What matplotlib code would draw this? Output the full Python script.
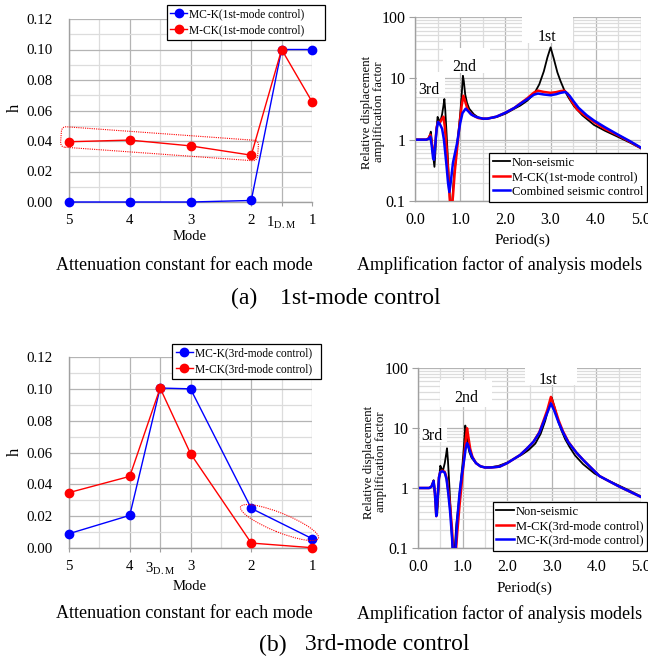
import matplotlib
matplotlib.use("Agg")
import matplotlib.pyplot as plt
import matplotlib.transforms as mtransforms
from matplotlib.patches import FancyBboxPatch, Ellipse, Rectangle
from matplotlib.ticker import MultipleLocator, FixedLocator, LogLocator, NullFormatter

plt.rcParams['font.family'] = ['Liberation Serif', 'DejaVu Serif']
plt.rcParams['mathtext.fontset'] = 'custom'
plt.rcParams['mathtext.rm'] = 'Liberation Serif'

# ---------------- data: damping constants ----------------
top_modes = [5, 4, 3, 2, 1.5, 1]
top_labels = ['5', '4', '3', '2', r'$\mathregular{1_{D.M}}$', '1']
top_mck_h = [0.0395, 0.0406, 0.0368, 0.0307, 0.100, 0.0658]   # M-CK(1st-mode control)
top_mck0_h = [0.0, 0.0, 0.0, 0.001, 0.100, 0.100]             # MC-K(1st-mode control)

bot_modes = [5, 4, 3.5, 3, 2, 1]
bot_labels = ['5', '4', r'$\mathregular{3_{D.M}}$', '3', '2', '1']
bot_mck_h = [0.0348, 0.0450, 0.1005, 0.0593, 0.0031, 0.0002]  # M-CK(3rd-mode control)
bot_mck0_h = [0.0090, 0.0205, 0.1005, 0.1000, 0.0249, 0.0059]  # MC-K(3rd-mode control)

# ---------------- data: amplification curves ----------------
ns_T = [0.05, 0.25, 0.30, 0.33, 0.35, 0.37, 0.40, 0.43, 0.45, 0.47, 0.50, 0.53, 0.56, 0.60,
        0.63, 0.65, 0.67, 0.70, 0.73, 0.76, 0.79, 0.82, 0.86, 0.90, 0.95, 1.00, 1.03, 1.06,
        1.08, 1.11, 1.15, 1.20, 1.30, 1.40, 1.50, 1.60, 1.80, 2.00, 2.20, 2.33, 2.48, 2.63,
        2.75, 2.85, 2.93, 3.00, 3.07, 3.15, 3.22, 3.30, 3.40, 3.52, 3.70, 3.96, 4.20, 4.48,
        4.75, 5.00]
ns_amp = [1.0, 1.0, 1.05, 1.2, 1.35, 1.0, 0.55, 0.36, 0.6, 1.3, 2.35, 2.1, 1.95, 2.6,
          3.6, 4.6, 3.0, 1.2, 0.45, 0.15, 0.06, 0.09, 0.25, 0.45, 1.1, 2.6, 5.0, 11.0,
          9.0, 5.5, 4.0, 3.2, 2.6, 2.3, 2.2, 2.2, 2.33, 2.65, 3.2, 3.6, 4.3, 5.5,
          8.0, 13.0, 22.0, 32.0, 21.0, 12.5, 9.0, 6.5, 4.8, 3.5, 2.5, 1.74, 1.4, 1.12,
          0.9, 0.72]

a1_T = [0.05, 0.25, 0.30, 0.34, 0.37, 0.40, 0.42, 0.45, 0.48, 0.51, 0.55, 0.60, 0.63, 0.66,
        0.70, 0.74, 0.78, 0.81, 0.84, 0.88, 0.93, 0.98, 1.03, 1.07, 1.11, 1.16, 1.22, 1.30,
        1.40, 1.50, 1.60, 1.80, 2.00, 2.20, 2.33, 2.48, 2.63, 2.72, 2.85, 3.00, 3.12, 3.22,
        3.30, 3.38, 3.46, 3.59, 3.75, 3.96, 4.20, 4.48, 4.75, 5.00]
a1_mck_amp = [1.0, 1.0, 1.05, 1.2, 0.9, 0.6, 0.53, 0.9, 1.6, 1.95, 1.9, 2.2, 2.37, 1.6,
              0.7, 0.25, 0.08, 0.07, 0.12, 0.3, 0.7, 1.6, 3.5, 5.2, 4.2, 3.2, 2.7, 2.45,
              2.25, 2.2, 2.2, 2.37, 2.75, 3.3, 3.9, 4.7, 5.85, 6.3, 6.0, 5.8, 5.95, 6.2,
              6.3, 5.6, 4.3, 3.1, 2.5, 1.95, 1.5, 1.19, 0.93, 0.73]
a1_comb_T = [0.05, 0.25, 0.30, 0.34, 0.37, 0.40, 0.42, 0.45, 0.48, 0.51, 0.55, 0.60, 0.64,
             0.67, 0.70, 0.73, 0.76, 0.79, 0.84, 0.93, 1.00, 1.05, 1.12, 1.18, 1.25, 1.35,
             1.50, 1.60, 1.80, 2.00, 2.20, 2.33, 2.48, 2.63, 2.72, 2.85, 3.00, 3.12, 3.22,
             3.33, 3.42, 3.50, 3.62, 3.80, 3.96, 4.20, 4.48, 4.75, 5.00]
a1_comb_amp = [1.0, 1.0, 1.03, 1.12, 0.8, 0.5, 0.47, 0.85, 1.5, 1.95, 1.8, 1.5, 1.0,
               0.6, 0.36, 0.2, 0.14, 0.2, 0.42, 0.87, 1.86, 2.7, 3.2, 2.9, 2.55, 2.35,
               2.2, 2.2, 2.37, 2.75, 3.3, 3.85, 4.55, 5.4, 5.65, 5.45, 5.3, 5.5, 5.8,
               6.0, 5.2, 4.3, 3.3, 2.5, 2.05, 1.6, 1.22, 0.95, 0.74]

b3_T = [0.05, 0.25, 0.30, 0.35, 0.38, 0.41, 0.44, 0.47, 0.50, 0.55, 0.60, 0.64, 0.68, 0.72,
        0.76, 0.79, 0.82, 0.85, 0.88, 0.93, 0.98, 1.03, 1.07, 1.10, 1.13, 1.17, 1.22, 1.30,
        1.40, 1.50, 1.65, 1.83, 2.00, 2.29, 2.45, 2.59, 2.72, 2.82, 2.90, 2.98, 3.06, 3.15,
        3.25, 3.37, 3.55, 3.71, 3.90, 4.07, 4.30, 4.52, 4.75, 5.00]
b3_mck_amp = [1.0, 1.0, 1.05, 1.3, 0.8, 0.34, 0.7, 1.5, 1.85, 1.95, 1.85, 1.5, 0.9, 0.5,
              0.22, 0.1, 0.07, 0.09, 0.18, 0.5, 1.2, 3.0, 6.5, 9.9, 7.0, 4.5, 3.3, 2.6,
              2.3, 2.2, 2.2, 2.27, 2.6, 3.55, 4.6, 5.9, 8.5, 13.6, 20.0, 33.0, 22.0, 13.6,
              8.8, 5.9, 3.9, 2.9, 2.1, 1.58, 1.28, 1.05, 0.87, 0.71]
b3_mck0_amp = [1.0, 1.0, 1.05, 1.3, 0.8, 0.34, 0.7, 1.5, 1.85, 1.9, 1.8, 1.4, 0.8, 0.4,
               0.16, 0.07, 0.06, 0.12, 0.3, 0.8, 1.6, 2.8, 4.6, 5.6, 5.0, 4.0, 3.2, 2.6,
               2.3, 2.2, 2.2, 2.27, 2.6, 3.55, 4.6, 5.9, 8.3, 12.8, 18.0, 25.7, 19.0, 12.5,
               8.5, 5.8, 3.9, 2.9, 2.1, 1.58, 1.28, 1.05, 0.87, 0.71]

W, H = 648, 662
fig = plt.figure(figsize=(W / 100, H / 100), dpi=100)

def fx(x):
    return x / W

def fy(y):
    return 1 - y / H

def add_axes(l, t, r, b):
    return fig.add_axes([fx(l), fy(b), fx(r) - fx(l), fy(t) - fy(b)])

GRID_MAJ = '#b4b4b4'
GRID_MIN = '#dcdcdc'
SPINE = '#a0a0a0'
BLUE = '#0000ff'
RED = '#ff0000'


def style_left(ax, modes, labels):
    ax.set_xlim(5, 1)
    ax.set_ylim(0, 0.12)
    ax.xaxis.set_major_locator(FixedLocator(modes))
    ax.set_xticklabels(labels)
    ax.xaxis.set_minor_locator(MultipleLocator(0.5))
    ax.yaxis.set_major_locator(MultipleLocator(0.02))
    ax.yaxis.set_minor_locator(MultipleLocator(0.01))
    ax.yaxis.set_major_formatter(matplotlib.ticker.FormatStrFormatter('%.2f'))
    ax.grid(True, which='major', color=GRID_MAJ, lw=0.9)
    ax.grid(True, which='minor', color=GRID_MIN, lw=0.9)
    ax.set_axisbelow(True)
    for s in ['top', 'right']:
        ax.spines[s].set_visible(False)
    for s in ['left', 'bottom']:
        ax.spines[s].set_color(SPINE)
        ax.spines[s].set_linewidth(1.0)
    ax.tick_params(axis='y', which='both', length=0, pad=12, labelsize=10.7)
    ax.tick_params(axis='x', which='major', length=3, color=SPINE, pad=6, labelsize=10.7)
    ax.tick_params(axis='x', which='minor', length=0)


def style_right(ax):
    ax.set_xlim(0, 5)
    ax.set_yscale('log')
    ax.set_ylim(0.1, 100)
    ax.xaxis.set_major_locator(MultipleLocator(1.0))
    ax.xaxis.set_minor_locator(MultipleLocator(0.5))
    ax.xaxis.set_major_formatter(matplotlib.ticker.FormatStrFormatter('%.1f'))
    ax.yaxis.set_major_locator(FixedLocator([0.1, 1, 10, 100]))
    ax.set_yticklabels(['0.1', '1', '10', '100'])
    ax.yaxis.set_minor_locator(LogLocator(base=10, subs=range(2, 10)))
    ax.yaxis.set_minor_formatter(NullFormatter())
    ax.grid(True, which='major', color=GRID_MAJ, lw=0.9)
    ax.grid(True, which='minor', color=GRID_MIN, lw=0.9)
    ax.set_axisbelow(True)
    for s in ['top', 'right']:
        ax.spines[s].set_visible(False)
    for s in ['left', 'bottom']:
        ax.spines[s].set_color(SPINE)
        ax.spines[s].set_linewidth(1.0)
    ax.tick_params(axis='y', which='major', length=4, color=SPINE, pad=3, labelsize=11.5)
    ax.tick_params(axis='y', which='minor', length=0)
    ax.tick_params(axis='x', which='both', length=0, pad=8, labelsize=11.5)


def legend(ax, x_right, y_top, size, ls, hl, handles=None, labels=None):
    kw = {}
    if handles is not None:
        kw = dict(handles=handles, labels=labels)
    lg = ax.legend(loc='upper right', bbox_to_anchor=(fx(x_right), fy(y_top)),
                   bbox_transform=fig.transFigure, borderaxespad=0, fontsize=size,
                   frameon=True, fancybox=False, framealpha=1, edgecolor='black',
                   borderpad=0.3, labelspacing=ls, handlelength=hl, handletextpad=0.15, **kw)
    lg.get_frame().set_linewidth(0.9)
    lg.set_zorder(10)
    return lg


def label_box(ax, l, t, r, b, text, cx, cy, size=11.5):
    ax.add_patch(Rectangle((fx(l), fy(b)), fx(r) - fx(l), fy(t) - fy(b), transform=fig.transFigure,
                           facecolor='white', edgecolor='none', zorder=1.5, clip_on=False))
    fig.text(fx(cx), fy(cy), text, ha='center', va='center', fontsize=size, zorder=5)


def at_data(ax, x, y):
    return fig.dpi_scale_trans + mtransforms.ScaledTranslation(x, y, ax.transData)

# ---------------- (a) left ----------------
axA = add_axes(69, 19, 312, 202)
style_left(axA, top_modes, top_labels)
lA1, = axA.plot(top_modes, top_mck0_h, '-o', color=BLUE, lw=1.0, ms=6, clip_on=False, zorder=3)
lA2, = axA.plot(top_modes, top_mck_h, '-o', color=RED, lw=1.0, ms=6, clip_on=False, zorder=4)
legend(axA, 325, 5, 8.3, 0.35, 1.5, [lA1, lA2],
       ['MC-K(1st-mode control)      ', 'M-CK(1st-mode control)      '])
rect = FancyBboxPatch((-0.9875, -0.1025), 1.975, 0.205,
                      boxstyle='round,pad=0,rounding_size=0.05',
                      transform=mtransforms.Affine2D().rotate_deg(-4.1) + at_data(axA, 3.51, 0.0382),
                      facecolor='none', edgecolor=RED, lw=0.8, ls=(0, (1, 1)), clip_on=False, zorder=5)
axA.add_patch(rect)

# ---------------- (a) right ----------------
axB = add_axes(415, 17, 641, 201)
style_right(axB)
axB.plot(ns_T, ns_amp, color='black', lw=1.3, label='Non-seismic', zorder=3)
axB.plot(a1_T, a1_mck_amp, color=RED, lw=1.8, label='M-CK(1st-mode control)', zorder=4)
axB.plot(a1_comb_T, a1_comb_amp, color=BLUE, lw=1.8, label='Combined seismic control', zorder=5)
legend(axB, 647, 153, 9, 0.2, 1.4)
label_box(axB, 522, 0, 573, 43, '1st', 547, 37)
label_box(axB, 443, 48, 490, 73, '2nd', 464, 67)
label_box(axB, 417, 72, 445, 97, '3rd', 429, 90)

# ---------------- (b) left ----------------
axC = add_axes(69, 357, 312, 548)
style_left(axC, bot_modes, bot_labels)
lC1, = axC.plot(bot_modes, bot_mck0_h, '-o', color=BLUE, lw=1.0, ms=6, clip_on=False, zorder=3)
lC2, = axC.plot(bot_modes, bot_mck_h, '-o', color=RED, lw=1.0, ms=6, clip_on=False, zorder=4)
legend(axC, 321, 344, 8.3, 0.35, 1.5, [lC1, lC2],
       ['MC-K(3rd-mode control)  ', 'M-CK(3rd-mode control)  '])
ell = Ellipse((0, 0), 0.84, 0.19, angle=-22, transform=at_data(axC, 1.535, 0.016),
              facecolor='none', edgecolor=RED, lw=0.8, ls=(0, (1, 1)), clip_on=False, zorder=5)
axC.add_patch(ell)

# ---------------- (b) right ----------------
axD = add_axes(418, 368, 641, 548)
style_right(axD)
axD.plot(ns_T, ns_amp, color='black', lw=1.3, label='Non-seismic', zorder=3)
axD.plot(b3_T, b3_mck_amp, color=RED, lw=1.8, label='M-CK(3rd-mode control)', zorder=4)
axD.plot(b3_T, b3_mck0_amp, color=BLUE, lw=1.8, label='MC-K(3rd-mode control)', zorder=5)
legend(axD, 647, 502, 9, 0.2, 1.4)
label_box(axD, 525, 362, 577, 385, '1st', 548, 380)
label_box(axD, 440, 380, 492, 407, '2nd', 466, 398)
label_box(axD, 420, 427, 447, 442, '3rd', 432, 436)

# ---------------- texts ----------------
fig.text(fx(15), fy(108), 'h', rotation=90, ha='center', va='center', fontsize=12)
fig.text(fx(15), fy(452), 'h', rotation=90, ha='center', va='center', fontsize=12)
fig.text(fx(190), fy(237), 'Mode', ha='center', va='center', fontsize=10.5)
fig.text(fx(190), fy(587), 'Mode', ha='center', va='center', fontsize=10.5)
fig.text(fx(522), fy(240), 'Period(s)', ha='center', va='center', fontsize=11)
fig.text(fx(524), fy(588), 'Period(s)', ha='center', va='center', fontsize=11)
ylab = 'Relative displacement\namplification factor'
fig.text(fx(373), fy(112), ylab, rotation=90, ha='center', va='center', fontsize=9.2, linespacing=1.1)
fig.text(fx(375), fy(462), ylab, rotation=90, ha='center', va='center', fontsize=9.2, linespacing=1.1)
fig.text(fx(184), fy(265), 'Attenuation constant for each mode', ha='center', va='center', fontsize=13)
fig.text(fx(500), fy(265), 'Amplification factor of analysis models', ha='center', va='center', fontsize=13)
fig.text(fx(184), fy(614), 'Attenuation constant for each mode', ha='center', va='center', fontsize=13)
fig.text(fx(500), fy(614), 'Amplification factor of analysis models', ha='center', va='center', fontsize=13)
fig.text(fx(231), fy(298), '(a)', ha='left', va='center', fontsize=17)
fig.text(fx(280), fy(298), '1st-mode control', ha='left', va='center', fontsize=17)
fig.text(fx(259), fy(645), '(b)', ha='left', va='center', fontsize=17)
fig.text(fx(305), fy(645), '3rd-mode control', ha='left', va='center', fontsize=17)

fig.savefig('out.png', dpi=100)
